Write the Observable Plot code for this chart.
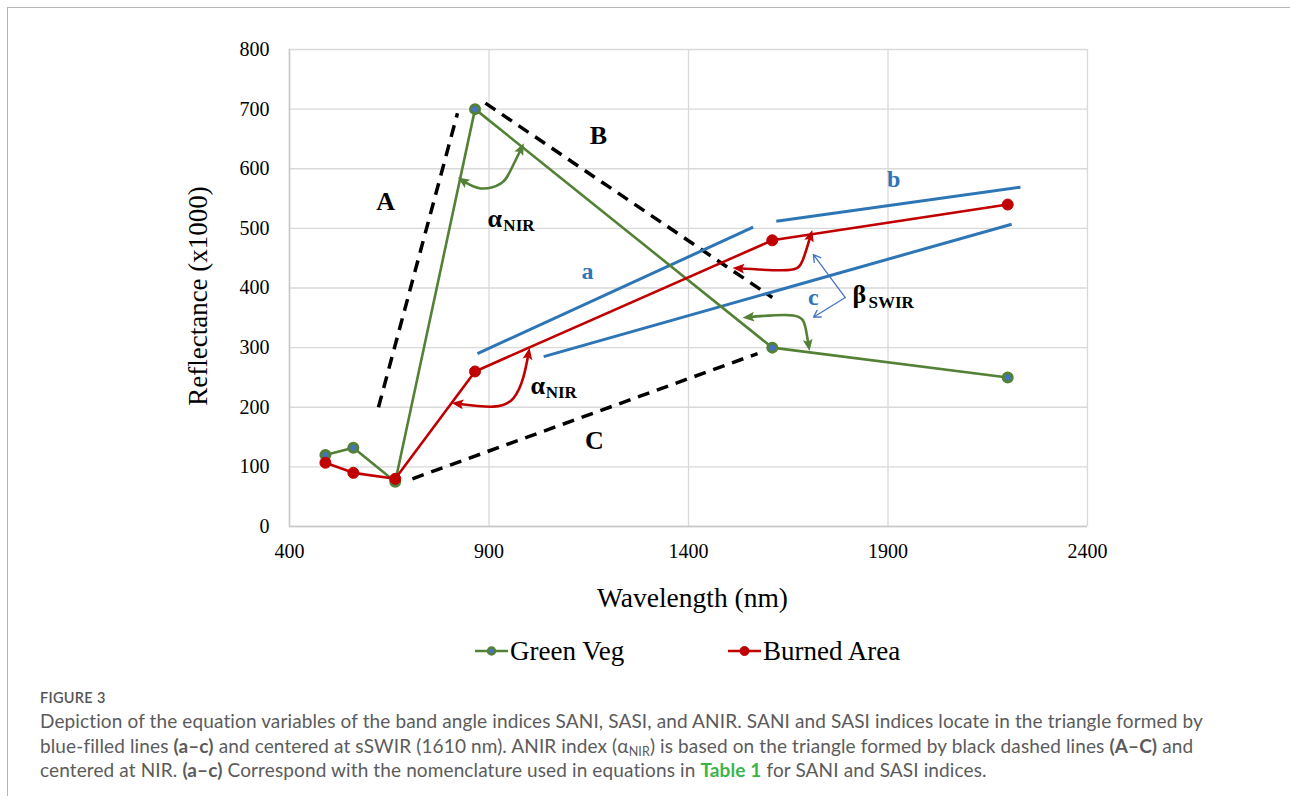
<!DOCTYPE html>
<html>
<head>
<meta charset="utf-8">
<script src="https://cdn.jsdelivr.net/npm/d3@7"></script>
<script src="https://cdn.jsdelivr.net/npm/@observablehq/plot@0.6"></script>
<style>
  html, body { margin: 0; padding: 0; background: #fff; }
  #page { position: relative; width: 1290px; height: 807px; overflow: hidden; }
  #border { position: absolute; left: 7px; top: 7px; width: 1300px; height: 788px;
            border-top: 1.5px solid #b4b4b4; border-left: 1.5px solid #b4b4b4; }
  #chart { position: absolute; left: 0; top: 0; }
  #legend { position: absolute; left: 0; top: 631px; width: 1290px; height: 40px;
            font-family: "Liberation Serif", "Times New Roman", serif; font-size: 27px; color: #000; }
  .item { position: absolute; top: 0; display: flex; align-items: center; height: 40px; }
  .item svg { margin-right: 1px; }
  #caption { position: absolute; left: 40px; top: 688px; width: 1240px;
             font-family: Lato, "Open Sans", sans-serif; color: #5b5b5b; }
  #fig { font-size: 14.5px; font-weight: 600; letter-spacing: 0.3px; line-height: 20px; color: #555; }
  #text { font-size: 19px; letter-spacing: 0.12px; line-height: 24.5px; white-space: nowrap; margin-top: 1px; }
  #text b { font-weight: 700; }
  .tbl { color: #3ab54a; font-weight: 700; }
  sub { font-size: 12.5px; vertical-align: -3px; line-height: 0; }
</style>
</head>
<body>
<div id="page">
  <div id="border"></div>
  <div id="chart"></div>
  <div id="legend"></div>
  <div id="caption">
    <div id="fig">FIGURE 3</div>
    <div id="text">Depiction of the equation variables of the band angle indices SANI, SASI, and ANIR. SANI and SASI indices locate in the triangle formed by<br>blue-filled lines <b>(a–c)</b> and centered at sSWIR (1610 nm). ANIR index (α<sub>NIR</sub>) is based on the triangle formed by black dashed lines <b>(A–C)</b> and<br>centered at NIR. <b>(a–c)</b> Correspond with the nomenclature used in equations in <span class="tbl">Table 1</span> for SANI and SASI indices.</div>
  </div>
</div>
<script>
// ---- data ----
const wavelength = [490, 560, 665, 865, 1610, 2200];
const greenVeg   = [120, 132, 75, 700, 300, 250];
const burnedArea = [107, 90, 80, 260, 480, 540];

const xTicks = [400, 900, 1400, 1900, 2400];
const yTicks = [0, 100, 200, 300, 400, 500, 600, 700, 800];

// black dashed triangle sides A, B, C
const dashedNames = ["A", "B", "C"];
const dashedX1 = [623, 891, 708];
const dashedY1 = [200, 710, 80];
const dashedX2 = [821, 1610, 1573];
const dashedY2 = [693, 384, 290];

// blue solid triangle sides a, b, c
const blueNames = ["a", "b", "c"];
const blueX1 = [871, 1620, 1037];
const blueY1 = [290, 512, 285];
const blueX2 = [1562, 2232, 2210];
const blueY2 = [502, 569, 507];

// curved angle arrows
const arcGreenNIR  = [[834, 580], [879, 567], [929, 575], [954, 597], [981, 634]];
const arcRedNIR    = [[821, 206], [911, 201], [961, 215], [986, 250], [999, 290]];
const arcRedSWIR   = [[1525, 433], [1648, 430], [1686, 446], [1706, 488]];
const arcGreenSWIR = [[1550, 351], [1663, 354], [1693, 334], [1701, 304]];

// thin pointer arrows from beta label
const pointerX1 = [1793, 1793];
const pointerY1 = [384, 384];
const pointerX2 = [1713, 1713];
const pointerY2 = [456, 351];

// labels
const letterX = [641, 1174, 1164];
const letterY = [544, 656, 144];
const blueLabelX = [1147, 1914, 1713];
const blueLabelY = [428, 582, 384];
const greekText = ["α", "α", "β"];
const greekX = [896, 1004, 1811];
const greekY = [517, 237, 388];
const subText = ["NIR", "NIR", "SWIR"];
const subX = [936, 1042, 1851];
const subY = [505, 225, 376];

const legendNames = ["Green Veg", "Burned Area"];

// ---- styles ----
const GREEN = "#538135";
const RED = "#c00000";
const BLUE = "#2e75b6";
const MARKERBLUE = "#4472c4";

function filledArrow(color) {
  const m = d3.create("svg:marker")
    .attr("viewBox", "-6 -5 12 10")
    .attr("markerWidth", 5.4)
    .attr("markerHeight", 5.4)
    .attr("orient", "auto-start-reverse")
    .attr("fill", color)
    .attr("stroke", "none");
  m.append("path").attr("d", "M-5,-4.2L5,0L-5,4.2L-3,0Z");
  return m.node();
}

const series = [
  ...wavelength.map((w, i) => ({name: "Green Veg", w, v: greenVeg[i]})),
  ...wavelength.map((w, i) => ({name: "Burned Area", w, v: burnedArea[i]}))
];
const gv = series.filter(d => d.name === "Green Veg");
const ba = series.filter(d => d.name === "Burned Area");
const dashed = dashedNames.map((n, i) => ({n, x1: dashedX1[i], y1: dashedY1[i], x2: dashedX2[i], y2: dashedY2[i]}));
const blues = blueNames.map((n, i) => ({n, x1: blueX1[i], y1: blueY1[i], x2: blueX2[i], y2: blueY2[i]}));
const pointers = pointerX1.map((x, i) => ({x1: x, y1: pointerY1[i], x2: pointerX2[i], y2: pointerY2[i]}));
const letters = dashedNames.map((t, i) => ({t, x: letterX[i], y: letterY[i]}));
const blueLabels = blueNames.map((t, i) => ({t, x: blueLabelX[i], y: blueLabelY[i]}));
const greeks = greekText.map((t, i) => ({t, x: greekX[i], y: greekY[i]}));
const subs = subText.map((t, i) => ({t, x: subX[i], y: subY[i]}));
const arcLine = (pts, color) => Plot.line(pts, {
  x: d => d[0], y: d => d[1], stroke: color, strokeWidth: 2.6, curve: "natural",
  markerStart: filledArrow, markerEnd: filledArrow
});

const serif = "'Liberation Serif', 'Times New Roman', serif";

const chart = Plot.plot({
  width: 1290,
  height: 620,
  marginLeft: 289,
  marginRight: 203,
  marginTop: 49,
  marginBottom: 94,
  x: {domain: [400, 2400]},
  y: {domain: [0, 800]},
  style: {fontFamily: serif, fontSize: "20px", color: "#000", background: "transparent", overflow: "visible"},
  marks: [
    Plot.gridX(xTicks, {stroke: "#d9d9d9", strokeOpacity: 1, strokeWidth: 1.3}),
    Plot.gridY(yTicks, {stroke: "#d9d9d9", strokeOpacity: 1, strokeWidth: 1.3}),
    Plot.ruleY([0], {stroke: "#c8c8c8", strokeWidth: 1.5}),
    Plot.ruleX([400], {stroke: "#c8c8c8", strokeWidth: 1.5}),
    Plot.axisX(xTicks, {tickSize: 0, tickPadding: 17, label: null, fontSize: 20, tickFormat: d => String(d)}),
    Plot.axisY(yTicks, {tickSize: 0, tickPadding: 20, label: null, fontSize: 20, tickFormat: d => String(d)}),
    Plot.text(["Wavelength (nm)"], {frameAnchor: "bottom", dy: 72, dx: 4, fontSize: 27.5, textAnchor: "middle", lineAnchor: "middle"}),
    Plot.text(["Reflectance (x1000)"], {frameAnchor: "left", dx: -91, dy: 8, rotate: -90, fontSize: 27, textAnchor: "middle", lineAnchor: "middle"}),
    Plot.link(dashed, {x1: "x1", y1: "y1", x2: "x2", y2: "y2", stroke: "#000", strokeWidth: 3.5, strokeDasharray: "12,8"}),
    Plot.link(blues, {x1: "x1", y1: "y1", x2: "x2", y2: "y2", stroke: BLUE, strokeWidth: 3}),
    Plot.line(gv, {x: "w", y: "v", stroke: GREEN, strokeWidth: 2.6}),
    Plot.line(ba, {x: "w", y: "v", stroke: RED, strokeWidth: 2.6}),
    arcLine(arcGreenNIR, GREEN),
    arcLine(arcRedNIR, RED),
    arcLine(arcRedSWIR, RED),
    arcLine(arcGreenSWIR, GREEN),
    Plot.arrow(pointers, {x1: "x1", y1: "y1", x2: "x2", y2: "y2", stroke: MARKERBLUE, strokeWidth: 1.3, headLength: 9}),
    Plot.dot(gv, {x: "w", y: "v", r: 4.5, fill: MARKERBLUE, stroke: GREEN, strokeWidth: 3}),
    Plot.dot(ba, {x: "w", y: "v", r: 5.5, fill: RED, stroke: RED, strokeWidth: 1}),
    Plot.text(letters, {x: "x", y: "y", text: "t", fontSize: 26, fontWeight: "bold", fill: "#000"}),
    Plot.text(blueLabels, {x: "x", y: "y", text: "t", fontSize: 24, fontWeight: "bold", fill: BLUE}),
    Plot.text(greeks, {x: "x", y: "y", text: "t", fontSize: 26, fontWeight: "bold", fill: "#000", textAnchor: "start"}),
    Plot.text(subs, {x: "x", y: "y", text: "t", fontSize: 17, fontWeight: "bold", fill: "#000", textAnchor: "start"})
  ]
});
document.getElementById("chart").appendChild(chart);

// legend
const legendColors = [GREEN, RED];
const legendFill = [MARKERBLUE, RED];
const legendLeft = [474, 727];
const legend = document.getElementById("legend");
legendNames.forEach((name, i) => {
  const item = document.createElement("div");
  item.className = "item";
  item.style.left = legendLeft[i] + "px";
  const s = d3.create("svg").attr("width", 35).attr("height", 20);
  s.append("line").attr("x1", 1).attr("x2", 34).attr("y1", 10).attr("y2", 10)
    .attr("stroke", legendColors[i]).attr("stroke-width", 2.6);
  s.append("circle").attr("cx", 17.5).attr("cy", 10).attr("r", i === 0 ? 3.5 : 4.5)
    .attr("fill", legendFill[i]).attr("stroke", legendColors[i]).attr("stroke-width", i === 0 ? 2.5 : 1);
  item.appendChild(s.node());
  const t = document.createElement("span");
  t.textContent = name;
  item.appendChild(t);
  legend.appendChild(item);
});
</script>
</body>
</html>
